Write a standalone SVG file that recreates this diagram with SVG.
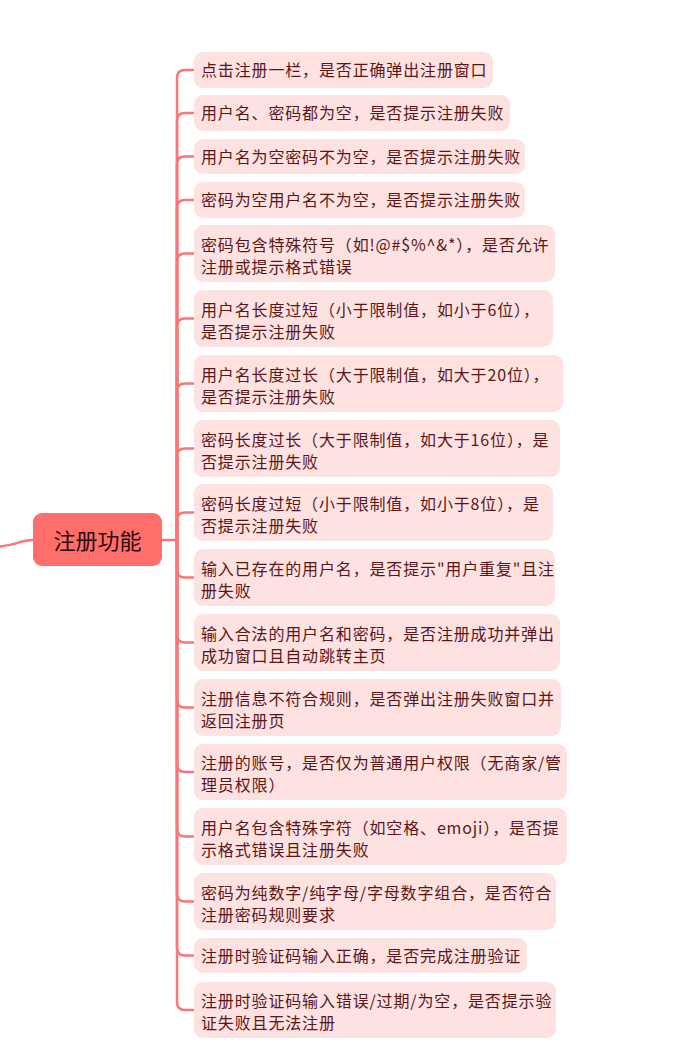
<svg xmlns="http://www.w3.org/2000/svg" width="693" height="1057" viewBox="0 0 693 1057">
<style>
.bx{fill:#fee2e2}
.t{font-family:"Noto Sans CJK SC","Liberation Sans",sans-serif;font-size:16px;letter-spacing:0.85px;fill:#5a1616}
.root{fill:#fe6e6b}
.rt{font-family:"Noto Sans CJK SC","Liberation Sans",sans-serif;font-size:22px;fill:#2a0a0a;text-anchor:middle}
.c{fill:none;stroke:#fb7676;stroke-width:2.5;stroke-linecap:round}
</style>
<rect width="693" height="1057" fill="#ffffff"/>
<g id="connectors">
<path class="c" d="M -5 547 C 15 546 20 540 33 540"/>
<path class="c" d="M 162 540 H 177 V 78 Q 177 70 185 70 H 194"/>
<path class="c" d="M 177 540 V 121 Q 177 113 185 113 H 194"/>
<path class="c" d="M 177 540 V 164.5 Q 177 156.5 185 156.5 H 194"/>
<path class="c" d="M 177 540 V 208 Q 177 200 185 200 H 194"/>
<path class="c" d="M 177 540 V 261.5 Q 177 253.5 185 253.5 H 194"/>
<path class="c" d="M 177 540 V 326.5 Q 177 318.5 185 318.5 H 194"/>
<path class="c" d="M 177 540 V 391.5 Q 177 383.5 185 383.5 H 194"/>
<path class="c" d="M 177 540 V 456.5 Q 177 448.5 185 448.5 H 194"/>
<path class="c" d="M 177 540 V 520.5 Q 177 512.5 185 512.5 H 194"/>
<path class="c" d="M 177 540 V 569.5 Q 177 577.5 185 577.5 H 194"/>
<path class="c" d="M 177 540 V 634.5 Q 177 642.5 185 642.5 H 194"/>
<path class="c" d="M 177 540 V 699.5 Q 177 707.5 185 707.5 H 194"/>
<path class="c" d="M 177 540 V 764 Q 177 772 185 772 H 194"/>
<path class="c" d="M 177 540 V 828.5 Q 177 836.5 185 836.5 H 194"/>
<path class="c" d="M 177 540 V 893.5 Q 177 901.5 185 901.5 H 194"/>
<path class="c" d="M 177 540 V 947.5 Q 177 955.5 185 955.5 H 194"/>
<path class="c" d="M 177 540 V 1002 Q 177 1010 185 1010 H 194"/>
</g>
<g id="root">
<rect class="root" x="33" y="513" width="129" height="53" rx="9"/>
<text class="rt" x="97.5" y="548.5">注册功能</text>
</g>
<g id="n1"><rect class="bx" x="194" y="52" width="299" height="36" rx="9"/><text class="t" x="201" y="76">点击注册一栏，是否正确弹出注册窗口</text></g>
<g id="n2"><rect class="bx" x="194" y="95" width="316" height="36" rx="9"/><text class="t" x="201" y="119">用户名、密码都为空，是否提示注册失败</text></g>
<g id="n3"><rect class="bx" x="194" y="139" width="331" height="35" rx="9"/><text class="t" x="201" y="162.5">用户名为空密码不为空，是否提示注册失败</text></g>
<g id="n4"><rect class="bx" x="194" y="182" width="331" height="36" rx="9"/><text class="t" x="201" y="206">密码为空用户名不为空，是否提示注册失败</text></g>
<g id="n5"><rect class="bx" x="194" y="225" width="361" height="57" rx="9"/><text class="t" x="201" y="250.5">密码包含特殊符号（如!@#$%^&amp;*），是否允许</text><text class="t" x="201" y="272.5">注册或提示格式错误</text></g>
<g id="n6"><rect class="bx" x="194" y="290" width="359" height="57" rx="9"/><text class="t" x="201" y="315.5">用户名长度过短（小于限制值，如小于6位），</text><text class="t" x="201" y="337.5">是否提示注册失败</text></g>
<g id="n7"><rect class="bx" x="194" y="355" width="369" height="57" rx="9"/><text class="t" x="201" y="380.5">用户名长度过长（大于限制值，如大于20位），</text><text class="t" x="201" y="402.5">是否提示注册失败</text></g>
<g id="n8"><rect class="bx" x="194" y="420" width="366" height="57" rx="9"/><text class="t" x="201" y="445.5">密码长度过长（大于限制值，如大于16位），是</text><text class="t" x="201" y="467.5">否提示注册失败</text></g>
<g id="n9"><rect class="bx" x="194" y="484" width="359" height="57" rx="9"/><text class="t" x="201" y="509.5">密码长度过短（小于限制值，如小于8位），是</text><text class="t" x="201" y="531.5">否提示注册失败</text></g>
<g id="n10"><rect class="bx" x="194" y="549" width="361" height="57" rx="9"/><text class="t" x="201" y="574.5">输入已存在的用户名，是否提示"用户重复"且注</text><text class="t" x="201" y="596.5">册失败</text></g>
<g id="n11"><rect class="bx" x="194" y="614" width="366" height="57" rx="9"/><text class="t" x="201" y="639.5">输入合法的用户名和密码，是否注册成功并弹出</text><text class="t" x="201" y="661.5">成功窗口且自动跳转主页</text></g>
<g id="n12"><rect class="bx" x="194" y="679" width="367" height="57" rx="9"/><text class="t" x="201" y="704.5">注册信息不符合规则，是否弹出注册失败窗口并</text><text class="t" x="201" y="726.5">返回注册页</text></g>
<g id="n13"><rect class="bx" x="194" y="744" width="373" height="56" rx="9"/><text class="t" x="201" y="769">注册的账号，是否仅为普通用户权限（无商家/管</text><text class="t" x="201" y="791">理员权限）</text></g>
<g id="n14"><rect class="bx" x="194" y="808" width="373" height="57" rx="9"/><text class="t" x="201" y="833.5">用户名包含特殊字符（如空格、emoji），是否提</text><text class="t" x="201" y="855.5">示格式错误且注册失败</text></g>
<g id="n15"><rect class="bx" x="194" y="873" width="362" height="57" rx="9"/><text class="t" x="201" y="898.5">密码为纯数字/纯字母/字母数字组合，是否符合</text><text class="t" x="201" y="920.5">注册密码规则要求</text></g>
<g id="n16"><rect class="bx" x="194" y="938" width="333" height="35" rx="9"/><text class="t" x="201" y="961.5">注册时验证码输入正确，是否完成注册验证</text></g>
<g id="n17"><rect class="bx" x="194" y="982" width="362" height="56" rx="9"/><text class="t" x="201" y="1007">注册时验证码输入错误/过期/为空，是否提示验</text><text class="t" x="201" y="1029">证失败且无法注册</text></g>
</svg>
